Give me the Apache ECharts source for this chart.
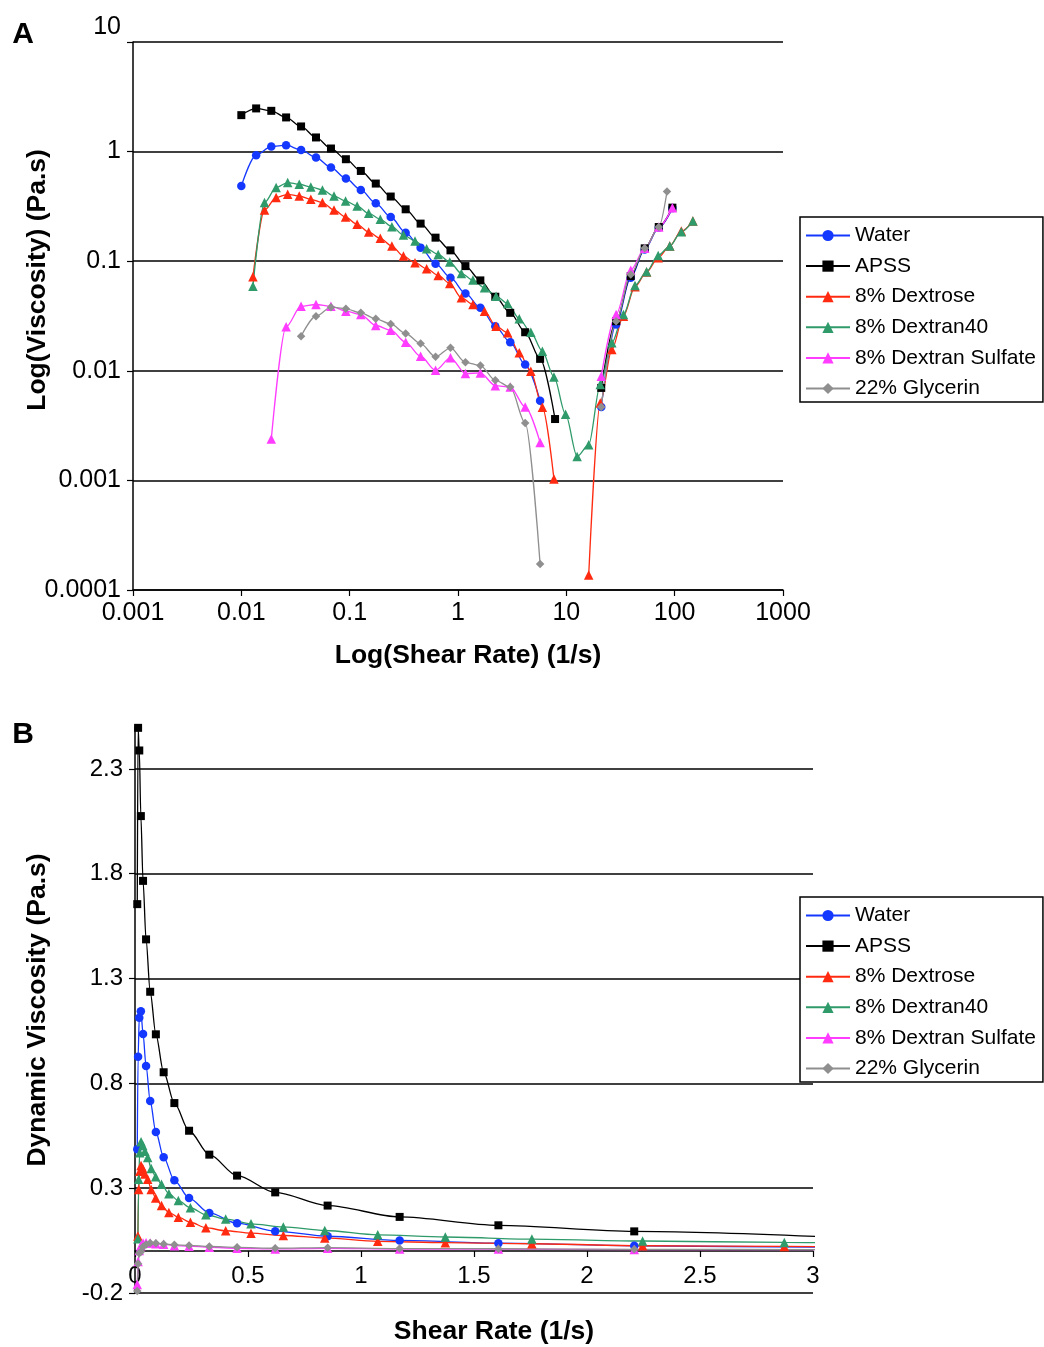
<!DOCTYPE html>
<html>
<head>
<meta charset="utf-8">
<script src="https://cdn.jsdelivr.net/npm/echarts@6/dist/echarts.min.js"></script>
<style>
  html, body { margin: 0; padding: 0; background: #fff; }
  #chart { width: 1044px; height: 1347px; }
</style>
</head>
<body>
<div id="chart"></div>
<script>
// Shear rates (1/s). Water / APSS / Dextran Sulfate / Glycerin share one sweep,
// Dextrose / Dextran40 were run on a finer sweep.
const rateW = [0.01, 0.0137, 0.0189, 0.0259, 0.0356, 0.0489, 0.0672, 0.0923, 0.1268, 0.1742,
  0.2393, 0.3288, 0.4516, 0.6204, 0.8523, 1.171, 1.608, 2.209, 3.035, 4.169,
  5.727, 7.87, 10.81, 14.85, 21.0, 28.8, 39.3, 52.9, 71.3, 95.3];
const rateG = [0.01, 0.0137, 0.0189, 0.0259, 0.0356, 0.0489, 0.0672, 0.0923, 0.1268, 0.1742,
  0.2393, 0.3288, 0.4516, 0.6204, 0.8523, 1.171, 1.608, 2.209, 3.035, 4.169,
  5.727, 7.87, 10.81, 14.85, 21.0, 28.8, 39.3, 52.9, 71.3, 85.0];
const rateD = [0.0128, 0.01637, 0.02094, 0.02678, 0.03425, 0.04381, 0.05603, 0.07166, 0.09166, 0.1172,
  0.1499, 0.1918, 0.2453, 0.3137, 0.4012, 0.5132, 0.6563, 0.8395, 1.074, 1.373,
  1.756, 2.246, 2.873, 3.675, 4.70, 6.011, 7.688, 9.833, 12.58, 16.09,
  20.57, 26.31, 33.66, 43.05, 55.06, 70.42, 90.07, 115.2, 147.3];

// Viscosity (Pa.s); null = no reading plotted
const water = [0.486, 0.927, 1.113, 1.144, 1.036, 0.883, 0.716, 0.568, 0.447, 0.3375,
  0.253, 0.182, 0.133, 0.0949, 0.0707, 0.0508, 0.0376, 0.0255, 0.0182, 0.0114,
  0.00534, null, null, null, 0.00468, 0.0265, 0.0707, 0.128, 0.203, 0.305];
const apss = [2.151, 2.477, 2.355, 2.05, 1.696, 1.346, 1.067, 0.852, 0.666, 0.511,
  0.389, 0.2975, 0.2203, 0.164, 0.1256, 0.0902, 0.0668, 0.0474, 0.0338, 0.02248,
  0.01285, 0.00363, null, null, 0.00698, 0.02835, 0.0731, 0.131, 0.205, 0.308];
const apssLinear = [1.655, 2.496, 2.388, 2.075, 1.766, 1.487, 1.237, 1.034, 0.853, 0.706,
  0.574, 0.46, 0.36, 0.28, 0.217, 0.163, 0.123, 0.094, 0.069];
const dextrose = [0.0722, 0.2932, 0.3805, 0.4078, 0.3935, 0.3672, 0.3425, 0.2932, 0.253, 0.217,
  0.1845, 0.1616, 0.1374, 0.1113, 0.0969, 0.0854, 0.0742, 0.0627, 0.0464, 0.0403,
  0.035, 0.0255, 0.0222, 0.01458, 0.0099, 0.00464, 0.001028, null, null, 0.000137,
  0.00509, 0.01562, 0.0315, 0.0585, 0.0795, 0.1076, 0.1374, 0.1884, 0.2325];
const dextran40 = [0.0592, 0.3425, 0.4695, 0.522, 0.5035, 0.4757, 0.4467, 0.3935, 0.3543, 0.319,
  0.2734, 0.241, 0.2067, 0.1733, 0.1527, 0.1301, 0.1154, 0.0981, 0.0774, 0.0672,
  0.0572, 0.048, 0.0411, 0.0298, 0.02248, 0.01508, 0.00879, 0.00402, 0.001654, 0.002115,
  0.00748, 0.01799, 0.0326, 0.0601, 0.0802, 0.113, 0.1374, 0.186, 0.2325];
const sulfate = [-0.16, -0.05, 0.002385, 0.0252, 0.03888, 0.04028, 0.03888, 0.035, 0.0326, 0.0259,
  0.02346, 0.0182, 0.01357, 0.01011, 0.01312, 0.00943, 0.00957, 0.00732, 0.00713, 0.00468,
  0.00222, null, null, null, 0.00891, 0.0326, 0.0829, 0.131, 0.205, 0.308];
const glycerin = [-0.19, -0.06, -0.01, -0.003, 0.02067, 0.0315, 0.0381, 0.0368, 0.0338, 0.0298,
  0.0268, 0.0219, 0.0177, 0.0134, 0.0162, 0.01196, 0.01116, 0.00819, 0.00713, 0.00334,
  0.000173, null, null, null, 0.00468, 0.02835, 0.0757, 0.131, 0.205, 0.4317];

const linTicksY = [-0.2, 0.3, 0.8, 1.3, 1.8, 2.3];

const FONT = '"Liberation Sans", Arial, sans-serif';

const fluids = [
  { name: 'Water', color: '#1438ff', symbol: 'circle', size: 8.5, rate: rateW, a: water, b: water },
  { name: 'APSS', color: '#000000', symbol: 'rect', size: 8, rate: rateW, a: apss, b: apssLinear },
  { name: '8% Dextrose', color: '#ff2a10', symbol: 'triangle', size: 9.5, rate: rateD, a: dextrose, b: dextrose },
  { name: '8% Dextran40', color: '#2f9a6a', symbol: 'triangle', size: 9.5, rate: rateD, a: dextran40, b: dextran40 },
  { name: '8% Dextran Sulfate', color: '#ff3cff', symbol: 'triangle', size: 9.5, rate: rateW, a: sulfate, b: sulfate },
  { name: '22% Glycerin', color: '#8f8f8f', symbol: 'diamond', size: 8.5, rate: rateG, a: glycerin, b: glycerin }
];

function pairs(rate, vals, positiveOnly) {
  return vals.map((v, i) => [rate[i], (v === null || (positiveOnly && v <= 0)) ? '-' : v]);
}

const series = [];
for (const f of fluids) {
  const common = {
    name: f.name, type: 'line', symbol: f.symbol, symbolSize: f.size,
    itemStyle: { color: f.color }, lineStyle: { color: f.color, width: 1.3 },
    smooth: 0.3, smoothMonotone: 'x', connectNulls: false, animation: false
  };
  series.push(Object.assign({}, common, { xAxisIndex: 0, yAxisIndex: 0, data: pairs(f.rate, f.a, true) }));
  series.push(Object.assign({}, common, { xAxisIndex: 1, yAxisIndex: 1, data: pairs(f.rate, f.b, false) }));
}

const blackLine = { color: '#000', width: 1.5 };
const tickStyle = { show: true, length: 6, lineStyle: { color: '#000', width: 1.2 } };
const labelBase = { color: '#000', fontSize: 25, fontFamily: FONT };

// decade labels for the log axes: 0.0001 ... 1000
function decade(v) {
  const e = Math.round(Math.log10(v));
  return e >= 0 ? String(Math.round(Math.pow(10, e))) : Math.pow(10, e).toFixed(-e);
}

function legendAt(top) {
  return {
    data: fluids.map(f => f.name), orient: 'vertical', left: 800, top: top,
    itemWidth: 44, itemHeight: 14, itemGap: 9.6, padding: [8, 7, 3, 5],
    borderColor: '#000', borderWidth: 1.5, backgroundColor: '#fff', selectedMode: false,
    textStyle: { fontSize: 21, color: '#000', fontFamily: FONT }
  };
}

function txt(x, y, text, size, rot) {
  return {
    type: 'text', x: x, y: y, rotation: rot || 0,
    style: { text: text, fontSize: size, fontWeight: 'bold', fontFamily: FONT, fill: '#000', align: 'center', verticalAlign: 'middle' }
  };
}

const chart = echarts.init(document.getElementById('chart'));
chart.setOption({
  backgroundColor: '#fff',
  animation: false,
  grid: [
    { left: 133, top: 42, width: 650, height: 548 },
    { left: 135, top: 727, width: 678, height: 566 }
  ],
  xAxis: [
    {
      type: 'log', gridIndex: 0, min: 0.001, max: 1000, logBase: 10,
      axisLine: { lineStyle: blackLine }, axisTick: tickStyle, splitLine: { show: false },
      axisLabel: Object.assign({}, labelBase, { margin: 11, formatter: decade })
    },
    {
      // sits on y = 0, i.e. 0.2/2.7 of the grid height above the bottom edge
      type: 'value', gridIndex: 1, min: 0, max: 3, interval: 0.5, offset: -42,
      axisLine: { onZero: false, lineStyle: blackLine }, axisTick: tickStyle, splitLine: { show: false },
      axisLabel: Object.assign({}, labelBase, { fontSize: 24, margin: 13 })
    }
  ],
  yAxis: [
    {
      type: 'log', gridIndex: 0, min: 0.0001, max: 10, logBase: 10,
      axisLine: { show: true, lineStyle: blackLine }, axisTick: tickStyle,
      splitLine: { show: true, lineStyle: blackLine },
      axisLabel: Object.assign({}, labelBase, {
        margin: 12,
        formatter: v => (v >= 9.99 ? '{top|10}' : decade(v)),
        rich: { top: { color: '#000', fontSize: 25, fontFamily: FONT, padding: [0, 0, 30, 0] } }
      })
    },
    {
      type: 'value', gridIndex: 1, min: -0.2, max: 2.5,
      axisLine: { show: true, onZero: false, lineStyle: blackLine },
      axisTick: Object.assign({}, tickStyle, { customValues: linTicksY }),
      splitLine: { show: true, lineStyle: blackLine },
      axisLabel: Object.assign({}, labelBase, { fontSize: 24, margin: 12, customValues: linTicksY, formatter: v => v.toFixed(1) })
    }
  ],
  legend: [legendAt(217), legendAt(897)],
  graphic: [
    txt(23, 35, 'A', 30),
    txt(23, 735, 'B', 30),
    txt(38, 280, 'Log(Viscosity) (Pa.s)', 26.5, Math.PI / 2),
    txt(468, 656, 'Log(Shear Rate) (1/s)', 26.5),
    txt(38, 1010, 'Dynamic Viscosity (Pa.s)', 26.5, Math.PI / 2),
    txt(494, 1332, 'Shear Rate (1/s)', 26.5)
  ],
  series: series
});
</script>
</body>
</html>
